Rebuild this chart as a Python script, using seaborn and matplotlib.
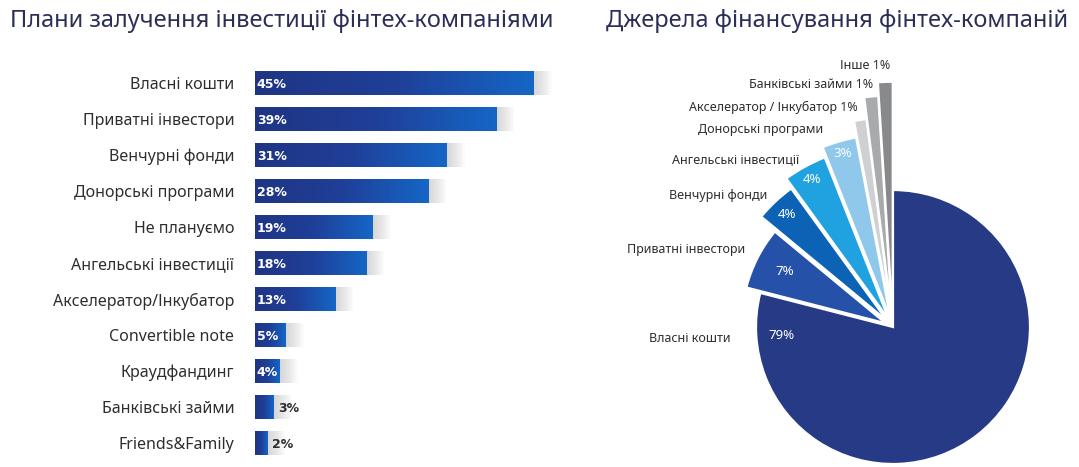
import numpy as np
import matplotlib
matplotlib.use("Agg")
import matplotlib.pyplot as plt
from matplotlib.colors import LinearSegmentedColormap
import seaborn as sns

# Planned sources of investment (share of fintech companies, %)
plan_categories = ["Власні кошти", "Приватні інвестори", "Венчурні фонди",
                   "Донорські програми", "Не плануємо", "Ангельські інвестиції",
                   "Акселератор/Інкубатор", "Convertible note", "Краудфандинг",
                   "Банківські займи", "Friends&Family"]
plan_values = [45, 39, 31, 28, 19, 18, 13, 5, 4, 3, 2]

# Current funding sources (share of total, %)
source_categories = ["Власні кошти", "Приватні інвестори", "Венчурні фонди",
                     "Ангельські інвестиції", "Донорські програми",
                     "Акселератор / Інкубатор", "Банківські займи", "Інше"]
source_values = [79, 7, 4, 4, 3, 1, 1, 1]

title_left = "Плани залучення інвестиції фінтех-компаніями"
title_right = "Джерела фінансування фінтех-компаній"

# ---- styling ----
sns.set_theme(style="white")
plt.rcParams["font.family"] = ["Noto Sans", "DejaVu Sans"]
TEXT = "#2e2e2e"
TITLE = "#2b2e57"
BOLD = ["DejaVu Sans"]
bar_cmap = LinearSegmentedColormap.from_list("bar", ["#1f3584", "#1f3f98", "#1566c6"])

pie_colors = ["#263a86", "#2551a9", "#0c63b6", "#1fa2df", "#8fc8ea",
              "#cfd0d2", "#a9aaac", "#88898b"]
pie_radius = [1.0, 1.05, 1.195, 1.275, 1.35, 1.47, 1.63, 1.73]
pie_explode = [0, 0.06, 0.06, 0.06, 0.06, 0.06, 0.06, 0.06]
pct_fraction = [None, 0.80, 0.90, 0.92, 0.935]
label_offsets = [None, (-12, 8), (-8, 6), (-6, 7), (-16, 12), (-2, 13), (2, 12), (5, 16)]

W, H = 1079, 467
fig = plt.figure(figsize=(W / 100, H / 100), dpi=100)
fig.patch.set_facecolor("white")

# ---------------- left: horizontal bars ----------------
px_per_unit = 6.19
x_max = 50
ax = fig.add_axes([255 / W, 6 / H, x_max * px_per_unit / W, 396 / H])
sns.barplot(x=plan_values, y=plan_categories, orient="h", ax=ax,
            width=0.64, color="#1f3584", saturation=1, zorder=3)

ypos = np.arange(len(plan_values))
vals = np.array(plan_values, dtype=float)
# soft drop shadow to the right of each bar
for d in np.linspace(0.25, 2.9, 12):
    ax.barh(ypos, vals + d, height=0.66, color="#8c8c8c", alpha=0.03,
            linewidth=0, zorder=1)

# left-to-right gradient fill for every bar
grad = np.linspace(0, 1, 256).reshape(1, -1)
for patch in ax.patches[:len(plan_values)]:
    x0, y0 = patch.get_x(), patch.get_y()
    w, h = patch.get_width(), patch.get_height()
    im = ax.imshow(grad, cmap=bar_cmap, aspect="auto", zorder=3,
                   extent=(x0, x0 + w, y0 + h, y0), interpolation="bilinear")
    im.set_clip_path(patch)
    patch.set_facecolor("none")
    patch.set_edgecolor("none")

for y, v in zip(ypos, plan_values):
    inside = v >= 4
    ax.text(0.3 if inside else v + 0.7, y + 0.04, f"{v}%",
            color="white" if inside else TEXT, fontsize=9, family=BOLD,
            fontweight="bold", va="center", ha="left", zorder=5)

ax.set_xlim(0, x_max)
ax.set_ylim(len(plan_values) - 0.5, -0.5)
ax.set_xlabel("")
ax.set_ylabel("")
ax.set_xticks([])
ax.tick_params(axis="y", length=0, pad=15, labelsize=11.5, labelcolor=TEXT)
for s in ax.spines.values():
    s.set_visible(False)

fig.text(10 / W, 1 - 21 / H, title_left, fontsize=17, color=TITLE,
         ha="left", va="center")

# ---------------- right: exploded pie ----------------
cx, cy, scale = 893, 327, 137
pax = fig.add_axes([600 / W, 0, (W - 600) / W, 1])
wedges, _ = pax.pie(source_values, startangle=90, counterclock=False,
                    colors=pie_colors, explode=pie_explode,
                    wedgeprops=dict(edgecolor="white", linewidth=1.6))
for wdg, r in zip(wedges, pie_radius):
    wdg.set_radius(r)

pax.set_aspect("auto")
pax.set_xlim((600 - cx) / scale, (W - cx) / scale)
pax.set_ylim((cy - H) / scale, cy / scale)
pax.axis("off")

LBL = 9.0
for i, (wdg, name, v) in enumerate(zip(wedges, source_categories, source_values)):
    ex, ey = wdg.center
    r = wdg.r
    if i == 0:
        ang = np.deg2rad(wdg.theta1 + 18.5)
        pax.text(1.19 * np.cos(ang), 1.19 * np.sin(ang), name, ha="right",
                 va="center", fontsize=LBL, color=TEXT)
        pax.text(0.82 * np.cos(ang), 0.82 * np.sin(ang), f"{v}%", ha="center",
                 va="center", fontsize=9.5, color="white")
        continue
    mid = np.deg2rad((wdg.theta1 + wdg.theta2) / 2)
    ox = ex + r * np.cos(mid)
    oy = ey + r * np.sin(mid)
    text = name if v > 1 else f"{name} {v}%"
    pax.annotate(text, (ox, oy), xytext=label_offsets[i], textcoords="offset pixels",
                 ha="right", va="center", fontsize=LBL, color=TEXT)
    if v > 1:
        rr = (r + pie_explode[i]) * pct_fraction[i]
        pax.text(rr * np.cos(mid), rr * np.sin(mid), f"{v}%", ha="center",
                 va="center", fontsize=9.5, color="white")

fig.text(606 / W, 1 - 21 / H, title_right, fontsize=17, color=TITLE,
         ha="left", va="center")

fig.savefig("out.png", dpi=100, facecolor="white")
